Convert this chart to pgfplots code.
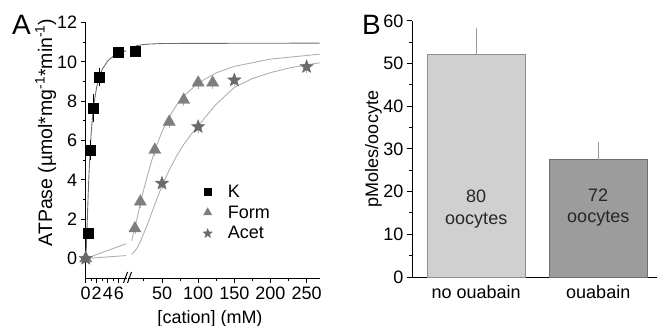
\documentclass[border=0pt]{standalone}
\usepackage{fontspec}
\setmainfont{Liberation Sans}
\usepackage{pgfplots}
\pgfplotsset{compat=1.18}
\newcommand{\fs}{\fontsize{18bp}{21.6bp}\selectfont}
\definecolor{kcurve}{HTML}{6E6E6E}
\definecolor{fcurve}{HTML}{B0B0B0}
\definecolor{formc}{HTML}{7E7E7E}
\definecolor{acetc}{HTML}{6A6A6A}
\definecolor{bara}{HTML}{D0D0D0}
\definecolor{barae}{HTML}{8E8E8E}
\definecolor{barb}{HTML}{9C9C9C}
\definecolor{barbe}{HTML}{6E6E6E}
\definecolor{errc}{HTML}{9A9A9A}
\pgfdeclareplotmark{fstar}{%
  \pgfpathmoveto{\pgfpointpolar{90}{\pgfplotmarksize}}%
  \pgfpathlineto{\pgfpointpolar{126}{0.42\pgfplotmarksize}}%
  \pgfpathlineto{\pgfpointpolar{162}{\pgfplotmarksize}}%
  \pgfpathlineto{\pgfpointpolar{198}{0.42\pgfplotmarksize}}%
  \pgfpathlineto{\pgfpointpolar{234}{\pgfplotmarksize}}%
  \pgfpathlineto{\pgfpointpolar{270}{0.42\pgfplotmarksize}}%
  \pgfpathlineto{\pgfpointpolar{306}{\pgfplotmarksize}}%
  \pgfpathlineto{\pgfpointpolar{342}{0.42\pgfplotmarksize}}%
  \pgfpathlineto{\pgfpointpolar{18}{\pgfplotmarksize}}%
  \pgfpathlineto{\pgfpointpolar{54}{0.42\pgfplotmarksize}}%
  \pgfpathclose\pgfusepathqfillstroke}
\pgfplotsset{myax/.style={scale only axis, anchor=south west,
  axis line style={line width=1bp, black}, tick style={line width=1bp, black},
  tick align=outside, major tick length=5bp, minor tick length=3bp,
  ticklabel style={font=\fs}, /pgf/number format/assume math mode=true,
  clip=false}}
\begin{document}
\begin{tikzpicture}
\path[use as bounding box] (0,0) rectangle (657bp,326bp);
% ---------- Panel A, left segment ----------
\begin{axis}[myax, at={(85.7bp,47.8bp)}, width=40.8bp, height=255.7bp,
  xmin=0, xmax=7.4, ymin=-1, ymax=12,
  axis x line*=bottom, axis y line*=left,
  xtick={0,2,4,6}, minor xtick={1,3,5,7},
  ytick={0,2,...,12}, minor ytick={1,3,...,11}]
\addplot[kcurve, line width=0.9bp, no marks] coordinates {
 (0,0) (0.1,0.46) (0.2,1.22) (0.3,2.04) (0.4,2.86) (0.5,3.62) (0.6,4.31)
 (0.8,5.48) (1.0,6.38) (1.25,7.24) (1.5,7.88) (2,8.74) (2.5,9.27) (3,9.62)
 (4,10.05) (5,10.29) (6,10.44) (7.3,10.56)};
\addplot[fcurve, line width=0.9bp, no marks] coordinates {(0,0) (7.3,0.75)};
\addplot[fcurve, line width=0.9bp, no marks] coordinates {(0,0) (7.3,0.15)};
\addplot[only marks, mark=triangle*, mark size=7bp, color=formc,
  error bars/.cd, y dir=both, y explicit, error mark=none, error bar style={fcurve, line width=0.8bp}]
  coordinates {(0,0) +- (0,0.2)};
\addplot[only marks, mark=fstar, mark size=7bp, color=acetc,
  error bars/.cd, y dir=both, y explicit, error mark=none, error bar style={fcurve, line width=0.8bp}]
  coordinates {(0,0) +- (0,0.2)};
\addplot[only marks, mark=square*, mark size=5bp, black,
  error bars/.cd, y dir=both, y explicit, error bar style={black, line width=0.8bp},
  error mark options={black, mark size=3bp, line width=0.8bp}]
  coordinates {(0.47,1.28) +- (0,0.1) (0.9,5.52) +- (0,0.35) (1.38,7.64) +- (0,0.55)
   (2.41,9.21) +- (0,0.3) (5.9,10.51) +- (0,0.1)};
\end{axis}
% ---------- Panel A, right segment ----------
\begin{axis}[myax, at={(128.4bp,47.8bp)}, width=191.6bp, height=255.7bp,
  xmin=3.5, xmax=268.5, ymin=-1, ymax=12,
  axis x line*=bottom, axis y line=none,
  xtick={50,100,...,250}, minor xtick={25,75,...,225},
  legend style={at={(0.389,0.372)}, anchor=north west, draw=none, fill=none,
    font=\fs, inner sep=0pt, row sep=4bp, column sep=14bp, nodes={inner sep=1.5bp}},
  legend cell align=left,
  legend image code/.code={\draw[#1] plot coordinates {(5bp,0bp)};}]
\addplot[kcurve, line width=0.9bp, no marks, forget plot] coordinates {
 (8,10.61) (10,10.71) (15,10.82) (20,10.86) (30,10.90) (50,10.93) (100,10.94) (268,10.95)};
\addplot[fcurve, line width=0.9bp, no marks, forget plot] coordinates {
 (8,0.9) (10,1.2) (12.5,1.55) (15,1.95) (20,2.8) (25,3.55) (30,4.25) (40,5.5) (50,6.45)
 (60,7.2) (70,7.79) (80,8.26) (100,8.92) (125,9.44) (150,9.77) (200,10.14) (268,10.39)};
\addplot[fcurve, line width=0.9bp, no marks, forget plot] coordinates {
 (8,0.2) (10,0.28) (15,0.5) (20,0.85) (30,1.75) (40,2.75) (50,3.7) (60,4.5) (70,5.2)
 (80,5.8) (90,6.3) (100,6.75) (125,7.85) (150,8.7) (175,9.15) (200,9.45) (225,9.68)
 (250,9.85) (268,9.95)};
\addplot[only marks, mark=triangle*, mark size=7bp, color=formc, forget plot,
  error bars/.cd, y dir=both, y explicit, error mark=none, error bar style={fcurve, line width=0.8bp}]
  coordinates {(12.5,1.53) +- (0,0.3) (20,2.89) +- (0,0.3) (40,5.52) +- (0,0.3)
   (60,6.95) +- (0,0.3) (80,8.06) +- (0,0.3) (100,8.94) +- (0,0.3) (120,8.94) +- (0,0.3)};
\addplot[only marks, mark=fstar, mark size=7bp, color=acetc, forget plot,
  error bars/.cd, y dir=both, y explicit, error mark=none, error bar style={fcurve, line width=0.8bp}]
  coordinates {(50,3.82) +- (0,0.3) (100,6.70) +- (0,0.3) (150,9.07) +- (0,0.3) (250,9.75) +- (0,0.3)};
\addplot[only marks, mark=square*, mark size=5bp, black, forget plot] coordinates {(12.5,10.56)};
\addlegendimage{only marks, mark=square*, mark size=3.2bp, black}
\addlegendentry{K}
\addlegendimage{only marks, mark=triangle*, mark size=4.8bp, formc}
\addlegendentry{Form}
\addlegendimage{only marks, mark=fstar, mark size=4.8bp, acetc}
\addlegendentry{Acet}
\end{axis}
% axis break
\draw[line width=1bp] (123.5bp,43bp) -- (127.5bp,54bp) (127.5bp,43bp) -- (131.5bp,54bp);
\node[font=\fs, anchor=base] at (210bp,2.7bp) {[cation] (mM)};
\node[font=\fontsize{19.5bp}{22bp}\selectfont, rotate=90, anchor=base] at (52bp,193.5bp) {ATPase (µmol*mg\textsuperscript{-1}*min\textsuperscript{-1})};
\node[font=\fontsize{28bp}{30bp}\selectfont, anchor=base west, inner sep=0pt] at (12bp,291bp) {A};
% ---------- Panel B ----------
\begin{axis}[myax, at={(412bp,49bp)}, width=245bp, height=256.2bp,
  xmin=0.4734, xmax=2.4816, ymin=0, ymax=60,
  axis x line*=bottom, axis y line*=left,
  xtick={1,2}, xticklabels={no ouabain, ouabain}, x tick style={draw=none},
  ytick={0,10,...,60}, minor ytick={5,15,...,55}]
\addplot[ybar, bar width=97.5bp, bar shift=0pt, fill=bara, draw=barae, line width=1bp,
  error bars/.cd, y dir=plus, y explicit, error bar style={errc, line width=1bp},
  error mark options={errc, line width=1bp, mark size=3bp}]
  coordinates {(1,52.0) +- (0,5.7)};
\addplot[ybar, bar width=97.5bp, bar shift=0pt, fill=barb, draw=barbe, line width=1bp,
  error bars/.cd, y dir=plus, y explicit, error bar style={errc, line width=1bp},
  error mark options={errc, line width=1bp, mark size=3bp}]
  coordinates {(2,27.5) +- (0,3.5)};
\node[font=\fs, align=center, text=black!85] at (axis cs:1,15.9) {80\\oocytes};
\node[font=\fs, align=center, text=black!85] at (axis cs:2,16.3) {72\\oocytes};
\end{axis}
\node[font=\fs, rotate=90, anchor=base] at (378bp,177bp) {pMoles/oocyte};
\node[font=\fontsize{28bp}{30bp}\selectfont, anchor=base west, inner sep=0pt] at (362bp,291bp) {B};
\end{tikzpicture}
\end{document}
